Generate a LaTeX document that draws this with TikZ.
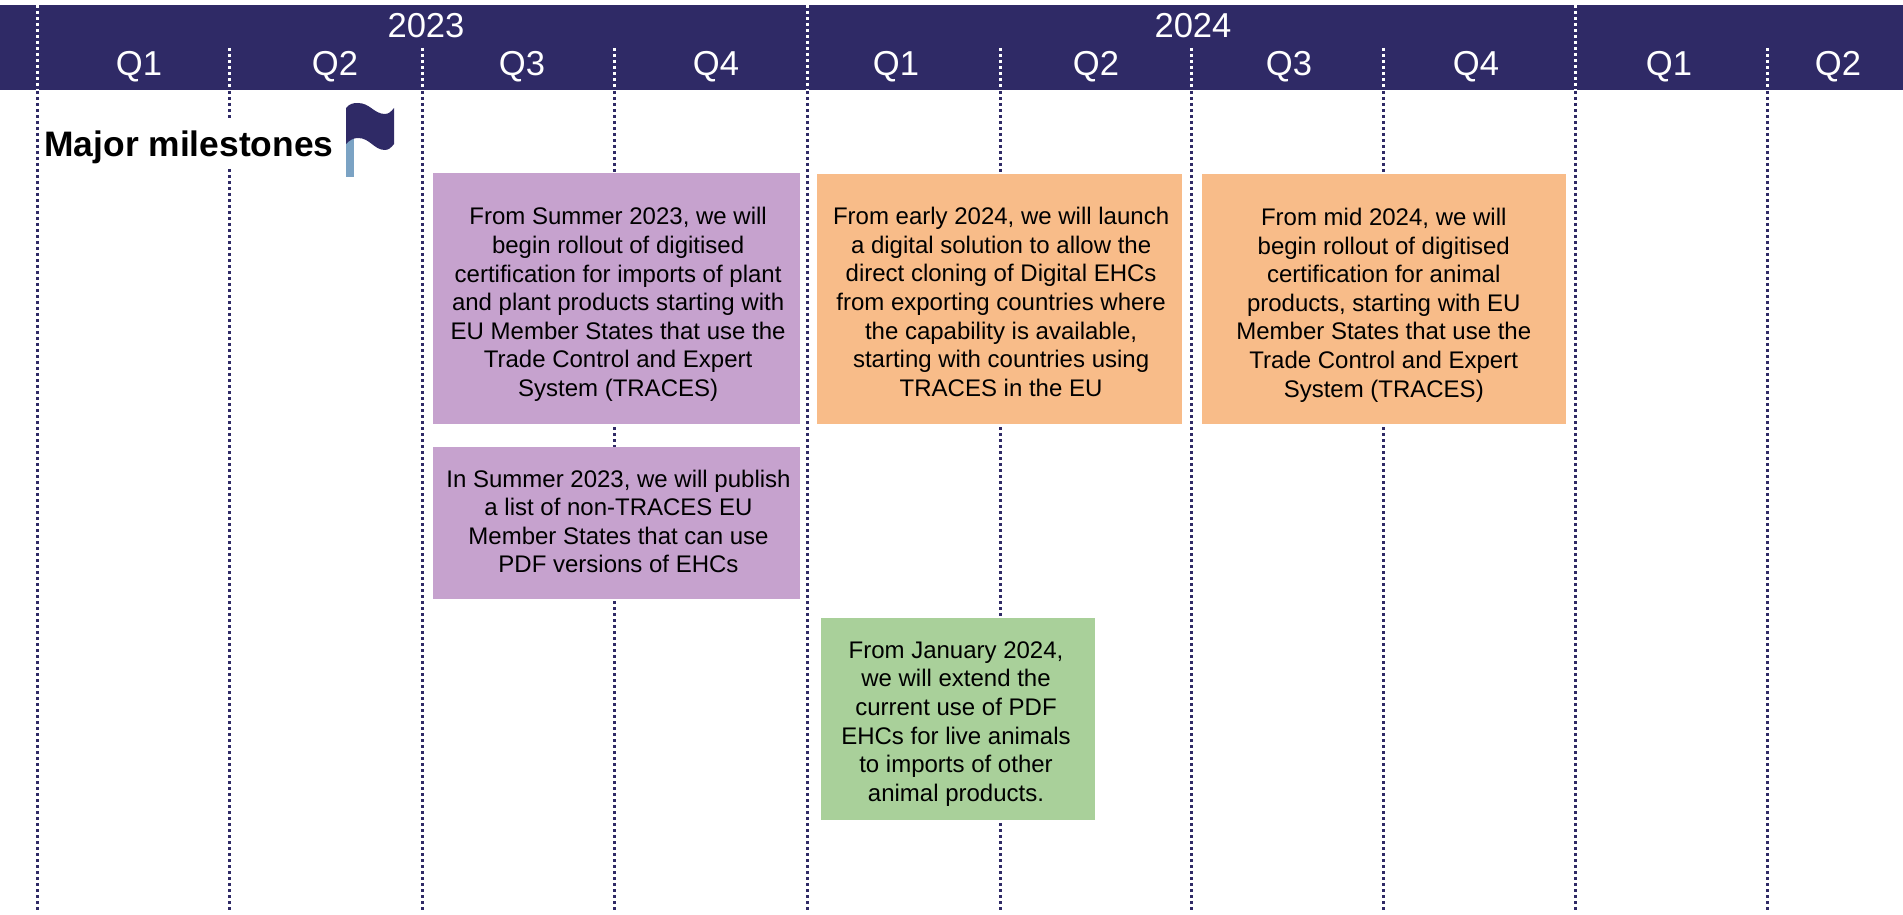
\documentclass[tikz,border=0pt]{standalone}
\usepackage{fontspec}
\setmainfont{Liberation Sans}
\definecolor{navy}{HTML}{2F2A66}
\definecolor{purplebox}{HTML}{C6A2CE}
\definecolor{orangebox}{HTML}{F8BC89}
\definecolor{greenbox}{HTML}{A9D09A}
\definecolor{flagpole}{HTML}{7BA3C4}
\tikzset{
  yearlabel/.style={text=white, inner sep=0pt, font=\fontsize{17.3}{20}\selectfont},
  panel/.style={inner sep=0pt},
  milestone/.style={inner sep=0pt, align=center, font=\fontsize{12}{14.3}\selectfont},
  gridline/.style={line width=1.5pt, dash pattern=on 1.6pt off 1.4pt},
}
\begin{document}
\begin{tikzpicture}[x=0.5pt, y=-0.5pt]
    \useasboundingbox (0,0) rectangle (1903,915);
    \fill[navy] (0,5) rectangle (1903,90);

    \foreach \x in {37, 807, 1575} {
      \draw[gridline, white] (\x,5) -- (\x,90);
    }
    \foreach \x in {229.5, 422, 614, 1000, 1191, 1383, 1767} {
      \draw[gridline, white] (\x,48) -- (\x,90);
    }
    \foreach \x in {37, 229.5, 422, 614, 807, 1000, 1191, 1383, 1575, 1767} {
      \draw[gridline, navy] (\x,91) -- (\x,911);
    }

    \node[yearlabel] (year23) at (426,26) {2023};
    \node[yearlabel] (year24) at (1193,26) {2024};
    \foreach \x/\q/\n in {139/Q1/a, 335/Q2/b, 522/Q3/c, 716/Q4/d, 896/Q1/e,
                          1096/Q2/f, 1289/Q3/g, 1476/Q4/h, 1669/Q1/i, 1838/Q2/j} {
      \node[yearlabel] (quarter\n) at (\x,67) {\q};
    }

    \node[fill=white, inner sep=0pt, text height=19.5pt, text depth=4.5pt,
      font=\fontsize{17.7}{20}\selectfont\bfseries, anchor=base west] (title) at (44,157) {Major milestones};

    % flag
    \fill[flagpole] (346,130) rectangle (354,177);
    \fill[navy] (346,108) .. controls (350,103.5) and (353,103) .. (358,103)
      .. controls (370,103) and (374,114) .. (385,114)
      .. controls (388,114) and (391,112) .. (394,108) -- (394,144)
      .. controls (391,148) and (388,150) .. (385,150)
      .. controls (374,150) and (370,138) .. (358,138)
      .. controls (353,138) and (350,140) .. (346,144) -- cycle;

    \node[panel, fill=purplebox, minimum width=183.5pt, minimum height=125.5pt] (plants) at (616.5,298.5) {};
    \node[panel, fill=purplebox, minimum width=183.5pt, minimum height=76pt] (pdflist) at (616.5,523) {};
    \node[panel, fill=orangebox, minimum width=182.5pt, minimum height=125pt] (cloning) at (999.5,299) {};
    \node[panel, fill=orangebox, minimum width=182.25pt, minimum height=125pt] (animals) at (1383.75,299) {};
    \node[panel, fill=greenbox, minimum width=137pt, minimum height=101pt] (january) at (958,719) {};

    \node[milestone, xshift=0.8pt, yshift=-3pt] (plantstext) at (plants)
      {From Summer 2023, we will\\ begin rollout of digitised\\ certification for imports of plant\\
       and plant products starting with\\ EU Member States that use the\\ Trade Control and Expert\\ System (TRACES)};
    \node[milestone, xshift=1pt, yshift=0.8pt] (pdflisttext) at (pdflist)
      {In Summer 2023, we will publish\\ a list of non-TRACES EU\\ Member States that can use\\ PDF versions of EHCs};
    \node[milestone, xshift=0.8pt, yshift=-1.5pt] (cloningtext) at (cloning)
      {From early 2024, we will launch\\ a digital solution to allow the\\ direct cloning of Digital EHCs\\
       from exporting countries where\\ the capability is available,\\ starting with countries using\\ TRACES in the EU};
    \node[milestone, yshift=-3pt] (animalstext) at (animals)
      {From mid 2024, we will\\ begin rollout of digitised\\ certification for animal\\ products, starting with EU\\
       Member States that use the\\ Trade Control and Expert\\ System (TRACES)};
    \node[milestone, xshift=-1pt, yshift=-2.5pt] (januarytext) at (january)
      {From January 2024,\\ we will extend the\\ current use of PDF\\ EHCs for live animals\\ to imports of other\\ animal products.};
  \end{tikzpicture}
\end{document}
